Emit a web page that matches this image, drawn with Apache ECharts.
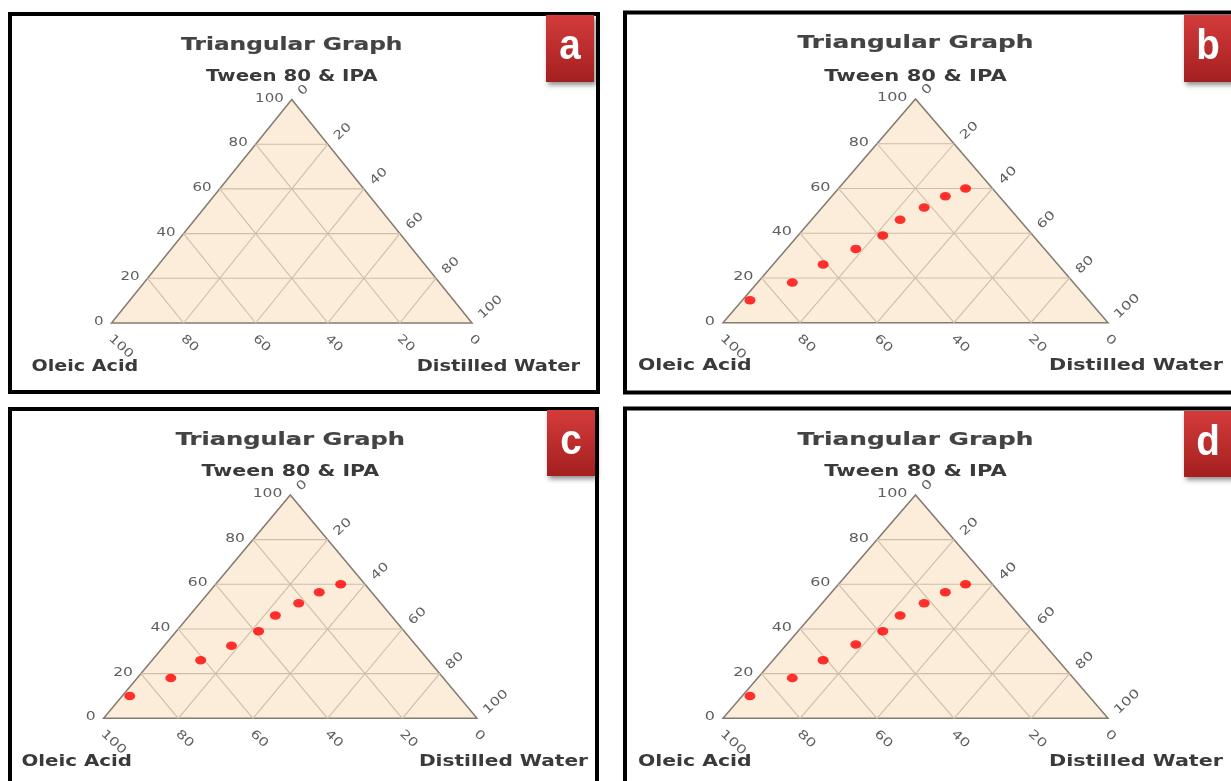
<!DOCTYPE html>
<html>
<head>
<meta charset="utf-8">
<script src="https://cdn.jsdelivr.net/npm/echarts@6/dist/echarts.min.js"></script>
<style>
html,body{margin:0;padding:0;background:#ffffff;}
#chart{width:1231px;height:781px;}
</style>
</head>
<body>
<div id="chart"></div>
<script>
// ---------- DATA ----------
const panelLetters = ['a', 'b', 'c', 'd'];
const chartTitle = 'Triangular Graph';
const topVertexName = 'Tween 80 & IPA';
const leftVertexName = 'Oleic Acid';
const rightVertexName = 'Distilled Water';
const tickValues = [0, 20, 40, 60, 80, 100];

// Compositions (%) : Oleic Acid, Distilled Water, Tween 80 & IPA
const oleicB = [88, 73, 61, 49, 39, 31, 22, 14, 7];
const waterB = [2, 9, 13, 18, 22, 23, 26.5, 29.5, 33];
const tweenB = [10, 18, 26, 33, 39, 46, 51.5, 56.5, 60];

const oleicC = [88, 73, 61, 49.5, 39, 31, 22, 14, 6.5];
const waterC = [2, 9, 13, 18, 22, 23, 26.5, 29.5, 33.5];
const tweenC = [10, 18, 26, 32.5, 39, 46, 51.5, 56.5, 60];

const oleicD = [88, 73, 61, 49, 39, 31, 22, 14, 7];
const waterD = [2, 9, 13, 18, 22, 23, 26.5, 29.5, 33];
const tweenD = [10, 18, 26, 33, 39, 46, 51.5, 56.5, 60];

const panelSeries = [null, [oleicB, waterB, tweenB], [oleicC, waterC, tweenC], [oleicD, waterD, tweenD]];

// ---------- LAYOUT ----------
const layout = [
  { grid: {left: 111.5, top: 99.5, width: 360.5, height: 223.5}, frame: [10, 14, 588, 378], badge: [546, 15, 48, 67],
    titleY: 44.7, subY: 77, nameY: 366.7, oleicX: 31.5, waterX: 580, k: 1.0 },
  { grid: {left: 723, top: 99, width: 385, height: 223.7}, frame: [625, 12.5, 640, 380], badge: [1184, 15, 50, 67],
    titleY: 43, subY: 76.7, nameY: 365.7, oleicX: 638, waterX: 1223, k: 1.065 },
  { grid: {left: 103.6, top: 495, width: 373.4, height: 223.3}, frame: [10, 409, 587, 420], badge: [547, 410, 48, 66],
    titleY: 440, subY: 472.3, nameY: 762, oleicX: 21.5, waterX: 588, k: 1.035 },
  { grid: {left: 723, top: 495, width: 385, height: 223.3}, frame: [625, 408.5, 640, 420], badge: [1184, 411, 50, 66],
    titleY: 440, subY: 472, nameY: 762.3, oleicX: 638, waterX: 1223, k: 1.065 }
];

// ternary (oleic, water, tween) -> cartesian on a 0..100 x 0..100 grid
function tern(o, w, t) { return [w + t / 2, t]; }

const chart = echarts.init(document.getElementById('chart'));

const grids = [], xAxes = [], yAxes = [], series = [], graphics = [];
const FONT = '"DejaVu Sans", Verdana, sans-serif';

layout.forEach((L, i) => {
  grids.push(Object.assign({containLabel: false}, L.grid));
  xAxes.push({type: 'value', gridIndex: i, min: 0, max: 100, show: false});
  yAxes.push({type: 'value', gridIndex: i, min: 0, max: 100, show: false});

  // triangle fill + edges
  series.push({
    type: 'custom', xAxisIndex: i, yAxisIndex: i, silent: true, z: 1,
    data: [[0, 0]],
    renderItem: function (params, api) {
      const pL = api.coord(tern(100, 0, 0));
      const pR = api.coord(tern(0, 100, 0));
      const pT = api.coord(tern(0, 0, 100));
      return {
        type: 'polygon',
        shape: {points: [pL, pR, pT]},
        style: {fill: '#fcedda', stroke: '#857b71', lineWidth: 1.5}
      };
    }
  });

  // inner grid lines
  const gl = [];
  tickValues.filter(v => v > 0 && v < 100).forEach(v => { gl.push([0, v]); gl.push([1, v]); gl.push([2, v]); });
  series.push({
    type: 'custom', xAxisIndex: i, yAxisIndex: i, silent: true, z: 2,
    data: gl,
    renderItem: function (params, api) {
      const kind = api.value(0), v = api.value(1);
      let a, b;
      if (kind === 0) { a = tern(100 - v, 0, v); b = tern(0, 100 - v, v); }
      else if (kind === 1) { a = tern(100 - v, v, 0); b = tern(0, v, 100 - v); }
      else { a = tern(v, 100 - v, 0); b = tern(v, 0, 100 - v); }
      const p1 = api.coord(a), p2 = api.coord(b);
      return {type: 'line', shape: {x1: p1[0], y1: p1[1], x2: p2[0], y2: p2[1]},
        style: {stroke: '#cdbda9', lineWidth: 1.1}};
    }
  });

  // tick labels
  const tl = [];
  tickValues.forEach(v => { tl.push([0, v]); tl.push([1, v]); tl.push([2, v]); });
  const k = L.k;
  series.push({
    type: 'custom', xAxisIndex: i, yAxisIndex: i, silent: true, z: 3,
    data: tl,
    renderItem: function (params, api) {
      const kind = api.value(0), v = api.value(1);
      let p, x, y, rot = 0, align = 'left';
      if (kind === 0) { p = api.coord(tern(100 - v, 0, v)); x = p[0] - 8; y = p[1] - 1; align = 'right'; }
      else if (kind === 1) { p = api.coord(tern(v, 100 - v, 0)); x = p[0] - 1; y = p[1] + 14; rot = -0.75; }
      else { p = api.coord(tern(0, v, 100 - v)); x = p[0] + 8; y = p[1] - 6; rot = 0.75; }
      return {
        type: 'text', x: x, y: y, rotation: rot, scaleX: 1.25 * k,
        style: {text: String(v), fill: '#5f5f5f', font: '12px ' + FONT,
          align: align, verticalAlign: 'middle', textAlign: align, textVerticalAlign: 'middle'}
      };
    }
  });

  // points
  const s = panelSeries[i];
  if (s) {
    const oleic = s[0], water = s[1], tween = s[2];
    series.push({
      type: 'scatter', xAxisIndex: i, yAxisIndex: i, z: 5,
      symbol: 'circle', symbolSize: [11, 8.5],
      itemStyle: {color: '#ff0000'},
      data: water.map((w, j) => tern(oleic[j], w, tween[j]))
    });
  }

  // frame
  graphics.push({type: 'rect', z: 0, shape: {x: L.frame[0], y: L.frame[1], width: L.frame[2], height: L.frame[3]},
    style: {fill: 'none', stroke: '#000000', lineWidth: 4}});

  const cx = L.grid.left + L.grid.width / 2;
  const boldStyle = (txt, size, color, align, sw) => ({text: txt, fill: color, stroke: color, lineWidth: sw,
    font: 'bold ' + size + 'px ' + FONT, textAlign: align, textVerticalAlign: 'middle'});
  graphics.push({type: 'text', x: cx, y: L.titleY, scaleX: 1.26 * k, z: 10,
    style: boldStyle(chartTitle, 18.5, '#434343', 'center', 0.2)});
  graphics.push({type: 'text', x: cx, y: L.subY, scaleX: 1.32 * k, z: 10,
    style: boldStyle(topVertexName, 15, '#3a3a3a', 'center', 0)});
  graphics.push({type: 'text', x: L.oleicX, y: L.nameY, scaleX: 1.21 * k, z: 10,
    style: boldStyle(leftVertexName, 15.8, '#3a3a3a', 'left', 0)});
  graphics.push({type: 'text', x: L.waterX, y: L.nameY, scaleX: 1.23 * k, z: 10,
    style: boldStyle(rightVertexName, 15.8, '#3a3a3a', 'right', 0)});

  // badge
  const B = L.badge;
  graphics.push({type: 'rect', z: 11, shape: {x: B[0], y: B[1], width: B[2], height: B[3]},
    style: {
      fill: new echarts.graphic.LinearGradient(0, 0, 0, 1, [
        {offset: 0, color: '#d43b3b'}, {offset: 1, color: '#a41f1f'}]),
      shadowBlur: 5, shadowOffsetX: 2, shadowOffsetY: 3, shadowColor: 'rgba(0,0,0,0.45)'
    }});
  graphics.push({type: 'text', z: 12, x: B[0] + 24, y: B[1] + B[3] / 2 - 1, scaleX: 0.92,
    style: {text: panelLetters[i], fill: '#ffffff', font: 'bold 42px "Liberation Sans", Arial, sans-serif',
      textAlign: 'center', textVerticalAlign: 'middle'}});
});

chart.setOption({
  animation: false,
  backgroundColor: '#ffffff',
  grid: grids,
  xAxis: xAxes,
  yAxis: yAxes,
  series: series,
  graphic: graphics
});
</script>
</body>
</html>
